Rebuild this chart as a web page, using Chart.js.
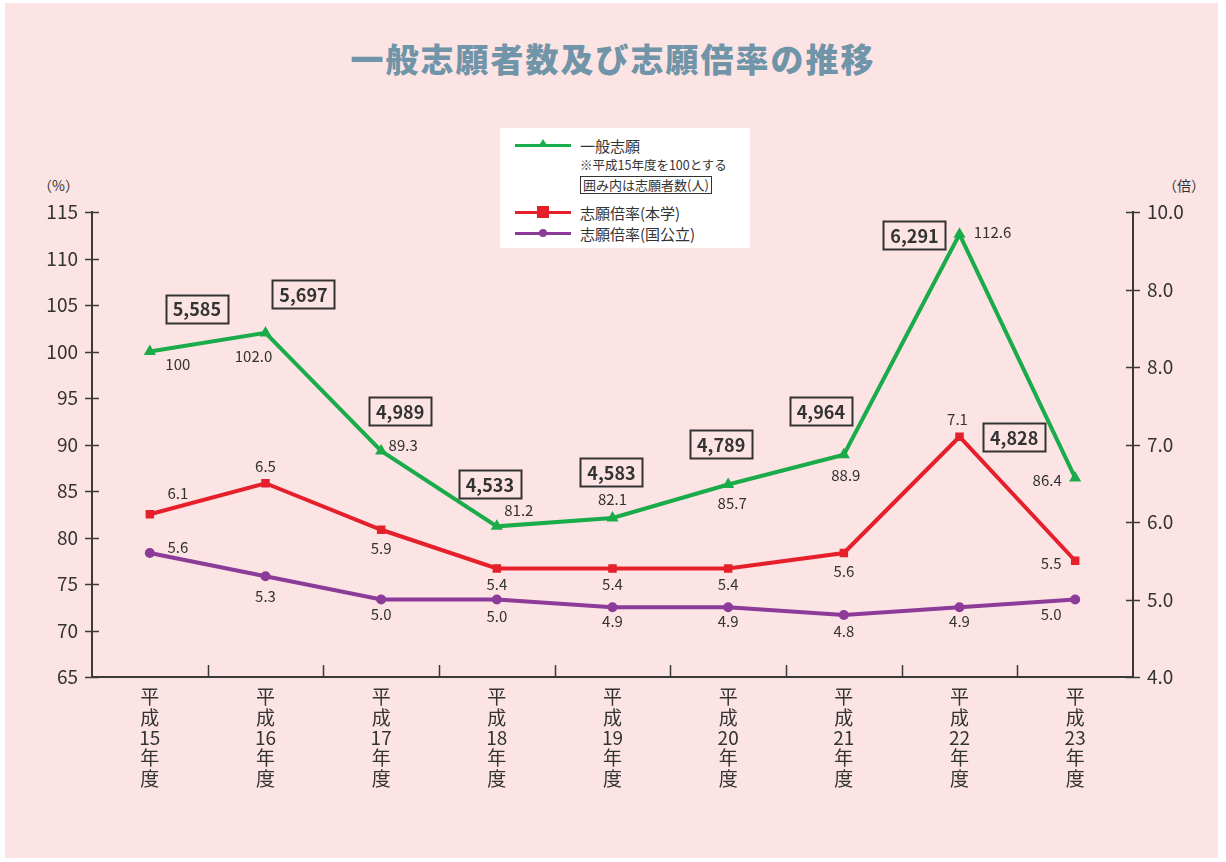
<!DOCTYPE html>
<html lang="ja">
<head>
<meta charset="utf-8">
<title>一般志願者数及び志願倍率の推移</title>
<script src="https://cdn.jsdelivr.net/npm/chart.js@4.4.1/dist/chart.umd.min.js"></script>
<style>
  html, body { margin: 0; padding: 0; background: #fff; }
  body { width: 1226px; height: 862px; position: relative; overflow: hidden;
         font-family: "Noto Sans CJK JP", "Noto Sans", sans-serif; color: #333; }
  .panel { position: absolute; left: 5px; top: 3px; width: 1213px; height: 855px; background: #fce4e4; }
  #chart { position: absolute; left: 0; top: 0; }
  .title { position: absolute; left: 0; width: 1226px; top: 34px; text-align: center;
           font-size: 33px; font-weight: 900; color: #7094a8; letter-spacing: 2px; }
  .unit { position: absolute; top: 175px; font-size: 14px; color: #333; }
  .legend { position: absolute; left: 500px; top: 128px; width: 250px; height: 120px; background: #fff; }
  .lg-row { position: absolute; left: 0; height: 20px; }
  .lg-line { position: absolute; left: 15px; width: 56px; height: 3px; }
  .lg-mark { position: absolute; }
  .lg-text { position: absolute; left: 80px; white-space: nowrap; font-size: 15px; line-height: 20px; }
  .lg-note { position: absolute; left: 80px; white-space: nowrap; font-size: 12.5px; }
  .lg-boxed { position: absolute; left: 80px; white-space: nowrap; font-size: 13px; line-height: 16px;
              border: 1.5px solid #333; padding: 0 2px; }
</style>
</head>
<body>
<div class="panel"></div>
<div class="title">一般志願者数及び志願倍率の推移</div>
<div class="unit" style="left:38px">（%）</div>
<div class="unit" style="left:1163px">（倍）</div>
<canvas id="chart" width="1226" height="862"></canvas>

<div class="legend">
  <div class="lg-row" style="top:8px">
    <div class="lg-line" style="top:8px;background:#1aab4a"></div>
    <div class="lg-mark" style="left:38px;top:3px;width:0;height:0;border-left:5px solid transparent;border-right:5px solid transparent;border-bottom:8px solid #1aab4a"></div>
    <div class="lg-text" style="top:0">一般志願</div>
  </div>
  <div class="lg-note" style="top:27px">※平成15年度を100とする</div>
  <div class="lg-boxed" style="top:48px">囲み内は志願者数(人)</div>
  <div class="lg-row" style="top:75px">
    <div class="lg-line" style="top:8px;background:#e5202b"></div>
    <div class="lg-mark" style="left:37px;top:3px;width:12px;height:12px;background:#e5202b"></div>
    <div class="lg-text" style="top:0">志願倍率(本学)</div>
  </div>
  <div class="lg-row" style="top:96px">
    <div class="lg-line" style="top:8px;background:#8c3b98"></div>
    <div class="lg-mark" style="left:39px;top:5px;width:8px;height:8px;border-radius:50%;background:#8c3b98"></div>
    <div class="lg-text" style="top:0">志願倍率(国公立)</div>
  </div>
</div>

<script>
'use strict';

// ---- data ----
const years = ['15', '16', '17', '18', '19', '20', '21', '22', '23'];
const generalIndex = [100, 102.0, 89.3, 81.2, 82.1, 85.7, 88.9, 112.6, 86.4];   // 平成15年度 = 100
const applicants = [5585, 5697, 4989, 4533, 4583, 4789, 4964, 6291, 4828];     // 志願者数(人)
const rateOwn = [6.1, 6.5, 5.9, 5.4, 5.4, 5.4, 5.6, 7.1, 5.5];                  // 志願倍率(本学)
const ratePublic = [5.6, 5.3, 5.0, 5.0, 4.9, 4.9, 4.8, 4.9, 5.0];               // 志願倍率(国公立)
const rightTickLabels = ['4.0', '5.0', '6.0', '7.0', '8.0', '8.0', '10.0'];     // as printed

// ---- label placement (offsets from each point, px) ----
const generalLabelOffset = [[28, 13], [-12, 23], [22, -6], [22, -16], [0, -19], [4, 19], [2, 21], [33, -2], [-28, 2]];
const countBoxOffset = [[47, -43], [38, -39], [19, -40], [-7, -42], [-1, -46], [-7, -40], [-23, -44], [-45, 1], [-61, -41]];
const ownLabelOffset = [[28, -21], [0, -17], [0, 19], [0, 16], [0, 16], [0, 16], [0, 18], [-2, -17], [-24, 3]];
const publicLabelOffset = [[28, -6], [0, 20], [0, 15], [0, 17], [0, 14], [0, 14], [0, 16], [0, 14], [-24, 15]];

const TEXT = '#333';
const AXIS = '#3a3a3a';
const FONT = '"Noto Sans CJK JP", "Noto Sans", sans-serif';

const categories = years.map(y => ['平', '成', y, '年', '度']);

// tick marks that cross the axes + inward ticks on the category axis
const axisTicks = {
  id: 'axisTicks',
  beforeDatasetsDraw(chart) {
    const { ctx, chartArea, scales } = chart;
    ctx.save();
    ctx.strokeStyle = AXIS;
    ctx.lineWidth = 1.5;
    ctx.beginPath();
    scales.y.ticks.forEach(t => {
      const py = Math.round(scales.y.getPixelForValue(t.value)) + 0.5;
      ctx.moveTo(chartArea.left - 7, py); ctx.lineTo(chartArea.left + 7, py);
    });
    scales.y1.ticks.forEach(t => {
      const py = Math.round(scales.y1.getPixelForValue(t.value)) + 0.5;
      ctx.moveTo(chartArea.right - 7, py); ctx.lineTo(chartArea.right + 7, py);
    });
    for (let i = 1; i < years.length; i++) {
      const px = Math.round((scales.x.getPixelForValue(i - 1) + scales.x.getPixelForValue(i)) / 2) + 0.5;
      ctx.moveTo(px, chartArea.bottom); ctx.lineTo(px, chartArea.bottom - 12);
    }
    ctx.stroke();
    ctx.restore();
  }
};

function fmtGeneral(v, i) {
  return i === 0 ? String(v) : v.toFixed(1);
}

// value labels and the boxed applicant counts
const pointLabels = {
  id: 'pointLabels',
  afterDatasetsDraw(chart) {
    const { ctx } = chart;
    ctx.save();
    ctx.textAlign = 'center';
    ctx.textBaseline = 'middle';
    ctx.fillStyle = TEXT;
    ctx.font = `15px ${FONT}`;

    const draw = (dsIndex, texts, offsets) => {
      chart.getDatasetMeta(dsIndex).data.forEach((pt, i) => {
        ctx.fillText(texts[i], pt.x + offsets[i][0], pt.y + offsets[i][1]);
      });
    };
    draw(0, generalIndex.map(fmtGeneral), generalLabelOffset);
    draw(1, rateOwn.map(v => v.toFixed(1)), ownLabelOffset);
    draw(2, ratePublic.map(v => v.toFixed(1)), publicLabelOffset);

    // boxed counts
    ctx.font = `bold 18px ${FONT}`;
    ctx.strokeStyle = '#333';
    ctx.lineWidth = 2;
    chart.getDatasetMeta(0).data.forEach((pt, i) => {
      const txt = applicants[i].toLocaleString('en-US');
      const cx = pt.x + countBoxOffset[i][0];
      const cy = pt.y + countBoxOffset[i][1];
      const w = ctx.measureText(txt).width + 14;
      const h = 28;
      ctx.strokeRect(Math.round(cx - w / 2) + 0.5, Math.round(cy - h / 2) + 0.5, Math.round(w), h);
      ctx.fillText(txt, cx, cy + 1);
    });
    ctx.restore();
  }
};

new Chart(document.getElementById('chart'), {
  type: 'line',
  data: {
    labels: categories,
    datasets: [
      { label: '一般志願', data: generalIndex, yAxisID: 'y',
        borderColor: '#1aab4a', backgroundColor: '#1aab4a', borderWidth: 4,
        pointStyle: 'triangle', pointRadius: 7, pointBorderWidth: 0, tension: 0 },
      { label: '志願倍率(本学)', data: rateOwn, yAxisID: 'y1',
        borderColor: '#e5202b', backgroundColor: '#e5202b', borderWidth: 4,
        pointStyle: 'rect', pointRadius: 6, pointBorderWidth: 0, tension: 0 },
      { label: '志願倍率(国公立)', data: ratePublic, yAxisID: 'y1',
        borderColor: '#8c3b98', backgroundColor: '#8c3b98', borderWidth: 4,
        pointStyle: 'circle', pointRadius: 5, pointBorderWidth: 0, tension: 0 }
    ]
  },
  options: {
    responsive: false,
    animation: false,
    devicePixelRatio: 1,
    layout: { padding: { top: 212, left: 0, right: 0, bottom: 0 } },
    plugins: { legend: { display: false }, tooltip: { enabled: false } },
    scales: {
      x: {
        offset: true,
        grid: { display: true, offset: true, drawOnChartArea: false, drawTicks: false },
        border: { display: true, color: AXIS, width: 2 },
        ticks: { color: TEXT, padding: 10, maxRotation: 0, autoSkip: false,
                 font: { family: FONT, size: 19, lineHeight: '20.3px' } },
        afterFit(scale) { scale.height = 185; }
      },
      y: {
        position: 'left', min: 65, max: 115,
        grid: { drawOnChartArea: false, drawTicks: false },
        border: { display: true, color: AXIS, width: 2 },
        ticks: { stepSize: 5, color: TEXT, padding: 14, font: { family: FONT, size: 19 } },
        afterFit(scale) { scale.width = 92; }
      },
      y1: {
        position: 'right', min: 4, max: 10,
        grid: { drawOnChartArea: false, drawTicks: false },
        border: { display: true, color: AXIS, width: 2 },
        ticks: { stepSize: 1, color: TEXT, padding: 14, font: { family: FONT, size: 19 },
                 callback: (v, i) => rightTickLabels[i] },
        afterFit(scale) { scale.width = 93; }
      }
    }
  },
  plugins: [axisTicks, pointLabels]
});
</script>
</body>
</html>
